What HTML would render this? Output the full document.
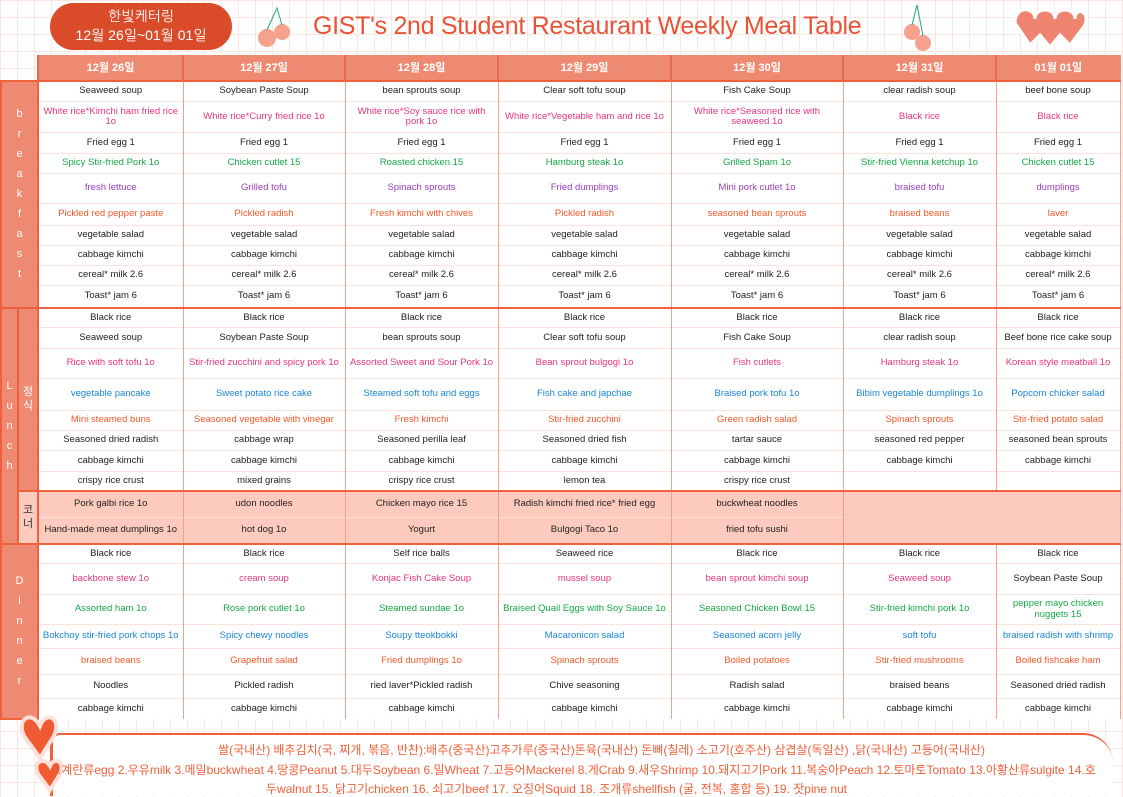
<!DOCTYPE html>
<html><head><meta charset="utf-8">
<style>
html,body{margin:0;padding:0;}
body{width:1123px;height:794px;position:relative;overflow:hidden;background-color:#fff;
background-image:linear-gradient(#fbe6e1 1px,transparent 1px),linear-gradient(90deg,#fbe6e1 1px,transparent 1px);background-size:17px 17px;
font-family:"Liberation Sans","Noto Sans CJK KR",sans-serif;}
.pill{position:absolute;left:50px;top:3px;width:182px;height:47px;background:#d94b29;border-radius:24px;color:#fff;text-align:center;font-size:14px;line-height:19px;padding-top:4px;box-sizing:border-box;font-family:"Liberation Sans","NanumGothic",sans-serif;}
.title{position:absolute;left:313px;top:12px;font-size:25px;color:#ea5236;letter-spacing:-0.3px;}
table{position:absolute;left:0;top:55px;border-collapse:collapse;table-layout:fixed;width:1119px;}
td{padding:0 3px;text-align:center;font-size:9.5px;line-height:10.5px;overflow:hidden;border-left:1.5px solid #f5a08c;border-right:1.5px solid #f5a08c;border-top:1px solid #fbe3dc;background:#fff;}
tr.hd td{background:#ee8a72;color:#fff;font-weight:bold;font-size:11px;border:1.5px solid #ee8a72;border-left:2px solid #e96a4c;}
tr.sec td{border-top:2px solid #f0603c;}
td.lab{background:#ee8a72;color:#fff;font-size:11px;line-height:20px;padding:0;border:2px solid #f0603c;}
td.sub{background:#ee8a72;color:#fff;font-size:11px;line-height:14px;padding:0;border:2px solid #f0603c;}
td.cor{background:#fccbbd;}
tr.crn td{background:#fccbbd;border-top:2px solid #f0603c;}
.k{color:#222}.p{color:#e8357a}.g{color:#16a846}.v{color:#9a3ebf}.o{color:#f2582a}.b{color:#1a86d6}
.foot{position:absolute;left:0;width:1123px;text-align:center;color:#f0603a;font-size:12px;}
</style></head><body>
<div class="pill">한빛케터링<br>12월 26일~01월 01일</div>
<div class="title">GIST's 2nd Student Restaurant Weekly Meal Table</div>
<svg style="position:absolute;left:1010px;top:5px" width="80" height="45"><path d="M5 18 C5 0 25 2 25 14 C25 2 45 2 45 14 C45 2 65 2 65 14 C65 2 80 5 75 20 L60 40 L50 30 L40 42 L30 30 L20 40 Z" fill="#ef8570" stroke="#fff" stroke-width="3"/></svg>
<svg style="position:absolute;left:250px;top:0" width="45" height="52"><circle cx="17" cy="38" r="9" fill="#f7a08e"/><circle cx="32" cy="32" r="8" fill="#f7a08e"/><path d="M17 30 L27 8 L32 25" stroke="#2a8" fill="none"/></svg>
<svg style="position:absolute;left:895px;top:0" width="45" height="52"><circle cx="17" cy="32" r="8" fill="#f7a08e"/><circle cx="28" cy="43" r="8" fill="#f7a08e"/><path d="M17 25 L22 5 L28 36" stroke="#2a8" fill="none"/></svg>
<table>
<colgroup><col style="width:17px"><col style="width:20px"><col style="width:145px"><col style="width:162px"><col style="width:153px"><col style="width:173px"><col style="width:172px"><col style="width:153px"><col style="width:124px"></colgroup>
<tr class="hd" style="height:25px"><td colspan="2" style="background:transparent;border:none"></td><td>12월 26일</td><td>12월 27일</td><td>12월 28일</td><td>12월 29일</td><td>12월 30일</td><td>12월 31일</td><td>01월 01일</td></tr>
<tr class="sec k" style="height:21px"><td colspan="2" rowspan="10" class="lab">b<br>r<br>e<br>a<br>k<br>f<br>a<br>s<br>t</td><td>Seaweed soup</td><td>Soybean Paste Soup</td><td>bean sprouts soup</td><td>Clear soft tofu soup</td><td>Fish Cake Soup</td><td>clear radish soup</td><td>beef bone soup</td></tr>
<tr class="p" style="height:31px"><td>White rice*Kimchi ham fried rice 1o</td><td>White rice*Curry fried rice 1o</td><td>White rice*Soy sauce rice with pork 1o</td><td>White rice*Vegetable ham and rice 1o</td><td>White rice*Seasoned rice with seaweed 1o</td><td>Black rice</td><td>Black rice</td></tr>
<tr class="k" style="height:21px"><td>Fried egg 1</td><td>Fried egg 1</td><td>Fried egg 1</td><td>Fried egg 1</td><td>Fried egg 1</td><td>Fried egg 1</td><td>Fried egg 1</td></tr>
<tr class="g" style="height:20px"><td>Spicy Stir-fried Pork 1o</td><td>Chicken cutlet 15</td><td>Roasted chicken 15</td><td>Hamburg steak 1o</td><td>Grilled Spam 1o</td><td>Stir-fried Vienna ketchup 1o</td><td>Chicken cutlet 15</td></tr>
<tr class="v" style="height:30px"><td>fresh lettuce</td><td>Grilled tofu</td><td>Spinach sprouts</td><td>Fried dumplings</td><td>Mini pork cutlet 1o</td><td>braised tofu</td><td>dumplings</td></tr>
<tr class="o" style="height:22px"><td>Pickled red pepper paste</td><td>Pickled radish</td><td>Fresh kimchi with chives</td><td>Pickled radish</td><td>seasoned bean sprouts</td><td>braised beans</td><td>laver</td></tr>
<tr class="k" style="height:20px"><td>vegetable salad</td><td>vegetable salad</td><td>vegetable salad</td><td>vegetable salad</td><td>vegetable salad</td><td>vegetable salad</td><td>vegetable salad</td></tr>
<tr class="k" style="height:20px"><td>cabbage kimchi</td><td>cabbage kimchi</td><td>cabbage kimchi</td><td>cabbage kimchi</td><td>cabbage kimchi</td><td>cabbage kimchi</td><td>cabbage kimchi</td></tr>
<tr class="k" style="height:20px"><td>cereal* milk 2.6</td><td>cereal* milk 2.6</td><td>cereal* milk 2.6</td><td>cereal* milk 2.6</td><td>cereal* milk 2.6</td><td>cereal* milk 2.6</td><td>cereal* milk 2.6</td></tr>
<tr class="k" style="height:22px"><td>Toast* jam 6</td><td>Toast* jam 6</td><td>Toast* jam 6</td><td>Toast* jam 6</td><td>Toast* jam 6</td><td>Toast* jam 6</td><td>Toast* jam 6</td></tr>
<tr class="sec k" style="height:20px"><td rowspan="10" class="lab">L<br>u<br>n<br>c<br>h</td><td rowspan="8" class="sub">정<br>식</td><td>Black rice</td><td>Black rice</td><td>Black rice</td><td>Black rice</td><td>Black rice</td><td>Black rice</td><td>Black rice</td></tr>
<tr class="k" style="height:21px"><td>Seaweed soup</td><td>Soybean Paste Soup</td><td>bean sprouts soup</td><td>Clear soft tofu soup</td><td>Fish Cake Soup</td><td>clear radish soup</td><td>Beef bone rice cake soup</td></tr>
<tr class="p" style="height:30px"><td>Rice with soft tofu 1o</td><td>Stir-fried zucchini and spicy pork 1o</td><td>Assorted Sweet and Sour Pork 1o</td><td>Bean sprout bulgogi 1o</td><td>Fish cutlets</td><td>Hamburg steak 1o</td><td>Korean style meatball 1o</td></tr>
<tr class="b" style="height:32px"><td>vegetable pancake</td><td>Sweet potato rice cake</td><td>Steamed soft tofu and eggs</td><td>Fish cake and japchae</td><td>Braised pork tofu 1o</td><td>Bibim vegetable dumplings 1o</td><td>Popcorn chicker salad</td></tr>
<tr class="o" style="height:20px"><td>Mini steamed buns</td><td>Seasoned vegetable with vinegar</td><td>Fresh kimchi</td><td>Stir-fried zucchini</td><td>Green radish salad</td><td>Spinach sprouts</td><td>Stir-fried potato salad</td></tr>
<tr class="k" style="height:20px"><td>Seasoned dried radish</td><td>cabbage wrap</td><td>Seasoned perilla leaf</td><td>Seasoned dried fish</td><td>tartar sauce</td><td>seasoned red pepper</td><td>seasoned bean sprouts</td></tr>
<tr class="k" style="height:21px"><td>cabbage kimchi</td><td>cabbage kimchi</td><td>cabbage kimchi</td><td>cabbage kimchi</td><td>cabbage kimchi</td><td>cabbage kimchi</td><td>cabbage kimchi</td></tr>
<tr class="k" style="height:19px"><td>crispy rice crust</td><td>mixed grains</td><td>crispy rice crust</td><td>lemon tea</td><td>crispy rice crust</td><td></td><td></td></tr>
<tr class="crn k" style="height:27px"><td rowspan="2" class="sub" style="background:#fccbbd;color:#333">코<br>너</td><td>Pork galbi rice 1o</td><td>udon noodles</td><td>Chicken mayo rice 15</td><td>Radish kimchi fried rice* fried egg</td><td>buckwheat noodles</td><td colspan="2" rowspan="2"></td></tr>
<tr class="k" style="height:26px"><td class="cor">Hand-made meat dumplings 1o</td><td class="cor">hot dog 1o</td><td class="cor">Yogurt</td><td class="cor">Bulgogi Taco 1o</td><td class="cor">fried tofu sushi</td></tr>
<tr class="sec k" style="height:20px"><td colspan="2" rowspan="7" class="lab">D<br>i<br>n<br>n<br>e<br>r</td><td>Black rice</td><td>Black rice</td><td>Self rice balls</td><td>Seaweed rice</td><td>Black rice</td><td>Black rice</td><td>Black rice</td></tr>
<tr class="p" style="height:31px"><td>backbone stew 1o</td><td>cream soup</td><td>Konjac Fish Cake Soup</td><td>mussel soup</td><td>bean sprout kimchi soup</td><td>Seaweed soup</td><td class="k">Soybean Paste Soup</td></tr>
<tr class="g" style="height:30px"><td>Assorted ham 1o</td><td>Rose pork cutlet 1o</td><td>Steamed sundae 1o</td><td>Braised Quail Eggs with Soy Sauce 1o</td><td>Seasoned Chicken Bowl 15</td><td>Stir-fried kimchi pork 1o</td><td>pepper mayo chicken nuggets 15</td></tr>
<tr class="b" style="height:24px"><td>Bokchoy stir-fried pork chops 1o</td><td>Spicy chewy noodles</td><td>Soupy tteokbokki</td><td>Macaronicon salad</td><td>Seasoned acorn jelly</td><td>soft tofu</td><td>braised radish with shrimp</td></tr>
<tr class="o" style="height:26px"><td>braised beans</td><td>Grapefruit salad</td><td>Fried dumplings 1o</td><td>Spinach sprouts</td><td>Boiled potatoes</td><td>Stir-fried mushrooms</td><td>Boiled fishcake ham</td></tr>
<tr class="k" style="height:24px"><td>Noodles</td><td>Pickled radish</td><td>ried laver*Pickled radish</td><td>Chive seasoning</td><td>Radish salad</td><td>braised beans</td><td>Seasoned dried radish</td></tr>
<tr class="k" style="height:20px"><td>cabbage kimchi</td><td>cabbage kimchi</td><td>cabbage kimchi</td><td>cabbage kimchi</td><td>cabbage kimchi</td><td>cabbage kimchi</td><td>cabbage kimchi</td></tr>
</table>
<div style="position:absolute;left:50px;top:733px;width:1060px;height:61px;background:#fff;border-top:2px solid #f0603c;border-left:3px solid #f0603c;border-radius:10px 30px 0 0"></div>
<svg style="position:absolute;left:10px;top:708px" width="60" height="86"><path d="M30 18 C22 2 6 10 14 28 L30 50 L44 28 C52 10 36 2 30 18Z" fill="#f05a32" stroke="#fde0da" stroke-width="4"/><path d="M40 58 C34 48 22 54 28 66 L40 82 L50 66 C56 54 44 48 40 58Z" fill="#f05a32" stroke="#fde0da" stroke-width="4"/></svg>
<div class="foot" style="top:741px;left:40px">쌀(국내산) 배추김치(국, 찌개, 볶음, 반찬):배추(중국산)고추가루(중국산)돈육(국내산) 돈뼈(칠레) 소고기(호주산) 삼겹살(독일산) ,닭(국내산) 고등어(국내산)</div>
<div class="foot" style="top:761px;left:12px">1.계란류egg 2.우유milk 3.메밀buckwheat 4.땅콩Peanut 5.대두Soybean 6.밀Wheat 7.고등어Mackerel 8.게Crab 9.새우Shrimp 10.돼지고기Pork 11.복숭아Peach 12.토마토Tomato 13.아황산류sulgite 14.호</div>
<div class="foot" style="top:780px;left:-5px">두walnut 15. 닭고기chicken 16. 쇠고기beef 17. 오징어Squid 18. 조개류shellfish (굴, 전복, 홍합 등) 19. 잣pine nut</div>
</body></html>
